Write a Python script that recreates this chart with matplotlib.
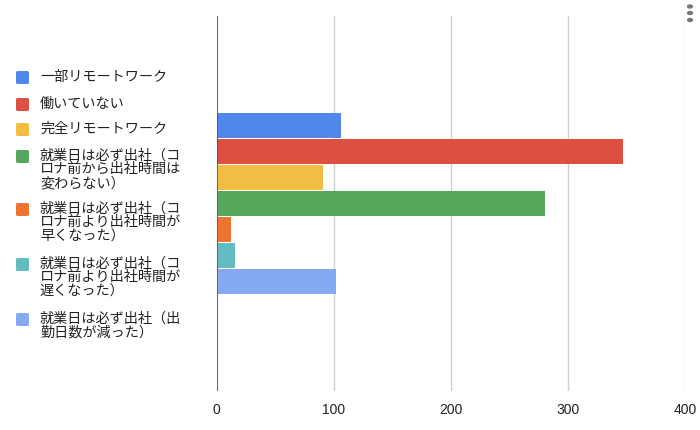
import matplotlib.pyplot as plt
from matplotlib.patches import FancyBboxPatch, Circle

plt.rcParams['font.family'] = ['Noto Sans CJK JP', 'DejaVu Sans']

# データ
labels = [
    '一部リモートワーク',
    '働いていない',
    '完全リモートワーク',
    '就業日は必ず出社（コ\nロナ前から出社時間は\n変わらない）',
    '就業日は必ず出社（コ\nロナ前より出社時間が\n早くなった）',
    '就業日は必ず出社（コ\nロナ前より出社時間が\n遅くなった）',
    '就業日は必ず出社（出\n勤日数が減った）',
]
values = [106, 347, 91, 280, 12, 16, 102]
colors = ['#4f87ea', '#db5040', '#f2bd42', '#56a65b', '#ee7531', '#64bbc4', '#86aaf1']
xticks = [0, 100, 200, 300, 400]

W, H = 700, 431
fig = plt.figure(figsize=(W / 100, H / 100), dpi=100)
ax = fig.add_axes([216.7 / W, (H - 391.7) / H, (685.3 - 216.7) / W, (391.7 - 17) / H])

n = len(values)
group = 0.486
step = group / n
for i, (v, c) in enumerate(zip(values, colors)):
    y = (i - (n - 1) / 2) * step
    ax.barh(y, v, height=step * 0.94, color=c, edgecolor='none', zorder=3)

ax.set_xlim(0, 400)
ax.set_ylim(0.5, -0.5)
ax.set_xticks(xticks)
ax.set_xticklabels([str(t) for t in xticks], fontsize=10, color='#222222',
                   family=['Liberation Sans', 'DejaVu Sans'])
ax.set_yticks([])
ax.tick_params(axis='x', length=0, pad=8)
for s in ax.spines.values():
    s.set_visible(False)
ax.grid(axis='x', color='#d0d0d0', linewidth=1, zorder=0)
ax.axvline(0, color='#555555', linewidth=1.2, zorder=4)

# 凡例
entry_y = [78, 105, 130, 157, 210, 265, 320]
for lab, c, yy in zip(labels, colors, entry_y):
    box = FancyBboxPatch((16 / W, 1 - (yy + 7) / H), 13 / W, 13 / H,
                         boxstyle='round,pad=0,rounding_size=0.003',
                         transform=fig.transFigure, facecolor=c,
                         edgecolor='none')
    fig.patches.append(box)
    fig.text(40 / W, 1 - (yy - 8.5) / H, lab, fontsize=10.2, color='#222222',
             va='top', ha='left', linespacing=0.98)

# メニューの点
for yy in [7.5, 14, 21]:
    fig.patches.append(Circle((690 / W, 1 - yy / H), 2.4 / W,
                              transform=fig.transFigure, color='#777777'))

fig.savefig('out.png', dpi=100, facecolor='white')
